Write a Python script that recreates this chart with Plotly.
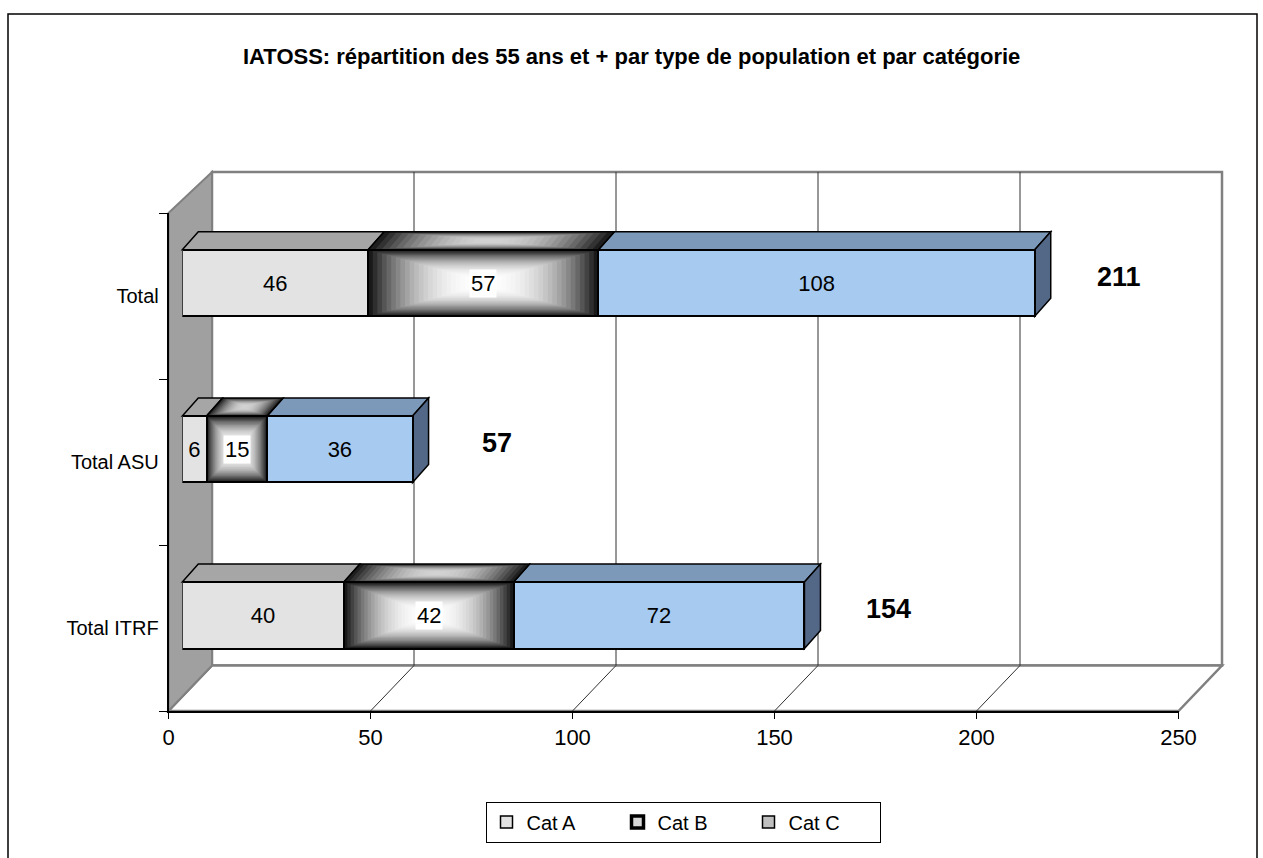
import plotly.graph_objects as go

# ---------------- data ----------------
categories = ["Total ITRF", "Total ASU", "Total"]
series_names = ["Cat A", "Cat B", "Cat C"]
cat_a = [40, 6, 46]
cat_b = [42, 15, 57]
cat_c = [72, 36, 108]
totals = [154, 57, 211]
x_ticks = [0, 50, 100, 150, 200, 250]
title_text = "IATOSS: répartition des 55 ans et + par type de population et par catégorie"

# ---------------- styling / geometry ----------------
W, H = 1263, 858
XMAX = 250
FONT = "Liberation Sans Narrow, Arial Narrow, Liberation Sans, Arial, sans-serif"
SPAN = 1010.0                      # pixels for 0..XMAX
FRONT_X0, FRONT_Y_TOP, FRONT_Y_BOT = 168.5, 213.0, 711.0
BACK_X0, BACK_Y_TOP, BACK_Y_BOT = 212.0, 172.0, 665.5
BAR_X0 = 182.3
BAR_Y_TOP, BAR_Y_BOT = 200.0, 698.4
BAR_FRAC = 0.4
DX, DY = 16.0, -18.0
COL_A, COL_C = "#e3e3e3", "#a6caf0"
TOP_A, TOP_C, SIDE_C = "#a6a6a6", "#7d99b9", "#536887"
WALL = "#a0a0a0"
EDGE = "#808080"


def fx(p):
    return p / W


def fy(p):
    return 1 - p / H


def pxv(v, x0):
    return x0 + v * SPAN / XMAX


def path(points):
    s = "M " + " L ".join(f"{fx(x):.5f},{fy(y):.5f}" for x, y in points) + " Z"
    return s


shapes = []


def poly(points, fill, line="black", lw=1.5):
    shapes.append(dict(type="path", path=path(points), xref="paper", yref="paper",
                       fillcolor=fill, line=dict(color=line, width=lw), layer="below"))


def seg(x0, y0, x1, y1, color, lw):
    shapes.append(dict(type="line", x0=fx(x0), y0=fy(y0), x1=fx(x1), y1=fy(y1),
                       xref="paper", yref="paper", line=dict(color=color, width=lw),
                       layer="below"))


# back wall
poly([(BACK_X0, BACK_Y_TOP), (pxv(XMAX, BACK_X0), BACK_Y_TOP),
      (pxv(XMAX, BACK_X0), BACK_Y_BOT), (BACK_X0, BACK_Y_BOT)], "white", EDGE, 2.5)
# floor
poly([(FRONT_X0, FRONT_Y_BOT), (BACK_X0, BACK_Y_BOT),
      (pxv(XMAX, BACK_X0), BACK_Y_BOT), (pxv(XMAX, FRONT_X0), FRONT_Y_BOT)], "white", EDGE, 2.5)
# gridlines on back wall and floor
for v in x_ticks[1:-1]:
    seg(pxv(v, BACK_X0), BACK_Y_TOP, pxv(v, BACK_X0), BACK_Y_BOT, "#303030", 1)
    seg(pxv(v, FRONT_X0), FRONT_Y_BOT, pxv(v, BACK_X0), BACK_Y_BOT, "#303030", 1)
# left wall
poly([(FRONT_X0, FRONT_Y_TOP), (BACK_X0, BACK_Y_TOP),
      (BACK_X0, BACK_Y_BOT), (FRONT_X0, FRONT_Y_BOT)], WALL, EDGE, 2)

# bar 3D decorations
ppc = (BAR_Y_BOT - BAR_Y_TOP) / len(categories)
half = BAR_FRAC * ppc / 2


def shade(level):
    g = int(max(0, min(255, level)))
    return f"rgb({g},{g},{g})"


for i, cat in enumerate(categories):
    yc = BAR_Y_BOT - (i + 0.5) * ppc
    yt, yb = yc - half, yc + half
    a0 = BAR_X0
    a1 = pxv(cat_a[i], BAR_X0)
    b1 = pxv(cat_a[i] + cat_b[i], BAR_X0)
    c1 = pxv(cat_a[i] + cat_b[i] + cat_c[i], BAR_X0)
    # top faces
    poly([(a0, yt), (a1, yt), (a1 + DX, yt + DY), (a0 + DX, yt + DY)], TOP_A)
    poly([(b1, yt), (c1, yt), (c1 + DX, yt + DY), (b1 + DX, yt + DY)], TOP_C)
    # top face of B with gradient
    N = 18
    cxm, cym = (a1 + b1) / 2 + DX / 2, yt + DY / 2
    for k in range(N):
        t = k / (N - 1)
        lev = 210 - 180 * (1 - t) ** 2
        sx = (1 - t * 0.96)
        sy = (1 - t * 0.85)
        pts = [(a1, yt), (b1, yt), (b1 + DX, yt + DY), (a1 + DX, yt + DY)]
        pts = [(cxm + (x - cxm) * sx, cym + (y - cym) * sy) for x, y in pts]
        shapes.append(dict(type="path", path=path(pts), xref="paper", yref="paper",
                           fillcolor=shade(lev), line=dict(width=0), layer="below"))
    poly([(a1, yt), (b1, yt), (b1 + DX, yt + DY), (a1 + DX, yt + DY)], "rgba(0,0,0,0)")
    # side face of C
    poly([(c1, yt), (c1 + DX, yt + DY), (c1 + DX, yb + DY), (c1, yb)], SIDE_C)
    # front face of B gradient
    cxf, cyf = (a1 + b1) / 2, yc
    hw, hh = (b1 - a1) / 2, half
    N = 26
    for k in range(N):
        t = k / (N - 1)
        lev = 255 - 230 * (1 - t) ** 2.4
        shapes.append(dict(type="rect", xref="paper", yref="paper",
                           x0=fx(cxf - hw * (1 - t)), x1=fx(cxf + hw * (1 - t)),
                           y0=fy(cyf - hh * (1 - t * 0.96)), y1=fy(cyf + hh * (1 - t * 0.96)),
                           fillcolor=shade(lev), line=dict(width=0), layer="below"))

fig = go.Figure()

fig.add_trace(go.Bar(y=categories, x=cat_a, orientation="h", name=series_names[0],
                     marker=dict(color=COL_A, line=dict(color="black", width=2)),
                     text=[str(v) for v in cat_a], textposition="inside",
                     insidetextanchor="middle", constraintext="none", textangle=0,
                     textfont=dict(family=FONT, size=22, color="black"),
                     showlegend=False, hoverinfo="skip"))
fig.add_trace(go.Bar(y=categories, x=cat_b, orientation="h", name=series_names[1],
                     marker=dict(color="rgba(0,0,0,0)", line=dict(color="black", width=2)),
                     textposition="none", showlegend=False, hoverinfo="skip"))
fig.add_trace(go.Bar(y=categories, x=cat_c, orientation="h", name=series_names[2],
                     marker=dict(color=COL_C, line=dict(color="black", width=2)),
                     text=[str(v) for v in cat_c], textposition="inside",
                     insidetextanchor="middle", constraintext="none", textangle=0,
                     textfont=dict(family=FONT, size=22, color="black"),
                     showlegend=False, hoverinfo="skip"))

# front plane axes (tick labels)
fig.add_trace(go.Scatter(x=[0] * len(categories), y=categories, xaxis="x2", yaxis="y2",
                         mode="markers", marker=dict(opacity=0), showlegend=False,
                         hoverinfo="skip"))

# legend entries
leg_fill = ["#e3e3e3", "#d8d8d8", "#c0c0c0"]
leg_lw = [1.5, 3.5, 1.5]
for name, fc, lw in zip(series_names, leg_fill, leg_lw):
    fig.add_trace(go.Scatter(x=[None], y=[None], mode="markers", name=name,
                             marker=dict(symbol="square", size=12, color=fc,
                                         line=dict(color="black", width=lw))))

annotations = []
for i, cat in enumerate(categories):
    annotations.append(dict(x=cat_a[i] + cat_b[i] / 2, y=cat, xref="x", yref="y",
                            text=str(cat_b[i]), showarrow=False, bgcolor="white",
                            borderpad=1, font=dict(family=FONT, size=22, color="black")))
    annotations.append(dict(x=totals[i], y=cat, xref="x", yref="y", xshift=84, yshift=6,
                            text=f"<b>{totals[i]}</b>", showarrow=False,
                            font=dict(family=FONT, size=27, color="black")))
annotations.append(dict(x=0.5, y=fy(56), xref="paper", yref="paper",
                        xanchor="center", yanchor="middle",
                        text=f"<b>{title_text}</b>", showarrow=False,
                        font=dict(family=FONT, size=22, color="black")))

# outer chart border
shapes.append(dict(type="rect", xref="paper", yref="paper", x0=fx(8), x1=fx(1257),
                   y0=fy(875), y1=fy(14), line=dict(color="black", width=1.5),
                   fillcolor="rgba(0,0,0,0)", layer="above"))

fig.update_layout(
    width=W, height=H, autosize=False,
    margin=dict(l=0, r=0, t=0, b=0, autoexpand=False),
    paper_bgcolor="white", plot_bgcolor="rgba(0,0,0,0)",
    barmode="stack", bargap=1 - BAR_FRAC,
    font=dict(family=FONT, color="black"),
    shapes=shapes, annotations=annotations,
    xaxis=dict(domain=[fx(BAR_X0), fx(BAR_X0 + SPAN)], range=[0, XMAX], anchor="y",
               visible=False),
    yaxis=dict(domain=[fy(BAR_Y_BOT), fy(BAR_Y_TOP)], range=[-0.5, len(categories) - 0.5],
               anchor="x", visible=False, type="category", categoryorder="array",
               categoryarray=categories),
    xaxis2=dict(domain=[fx(FRONT_X0), fx(FRONT_X0 + SPAN)], range=[0, XMAX], anchor="y2",
                tickvals=x_ticks, ticks="outside", ticklen=6, tickcolor="black",
                showline=True, linecolor="black", linewidth=1.5, showgrid=False,
                zeroline=False, tickfont=dict(family=FONT, size=22, color="black")),
    yaxis2=dict(domain=[fy(FRONT_Y_BOT), fy(FRONT_Y_TOP)], range=[-0.5, len(categories) - 0.5],
                anchor="x2", type="category", categoryorder="array", categoryarray=categories,
                ticks="outside", ticklen=8, tickcolor="black", tickson="boundaries",
                showline=True, linecolor="black", linewidth=1.5, showgrid=False,
                ticklabelstandoff=4,
                tickfont=dict(family=FONT, size=20, color="black")),
    legend=dict(orientation="h", x=fx(683), y=fy(822), xanchor="center", yanchor="middle",
                traceorder="normal",
                bordercolor="black", borderwidth=1, bgcolor="white",
                entrywidth=86, font=dict(family=FONT, size=20, color="black")),
    hovermode=False,
)

fig.write_html("out.html", config={"responsive": False, "displayModeBar": False},
               post_script="document.body.style.margin='0px';"
                           "document.body.style.overflow='hidden';")
